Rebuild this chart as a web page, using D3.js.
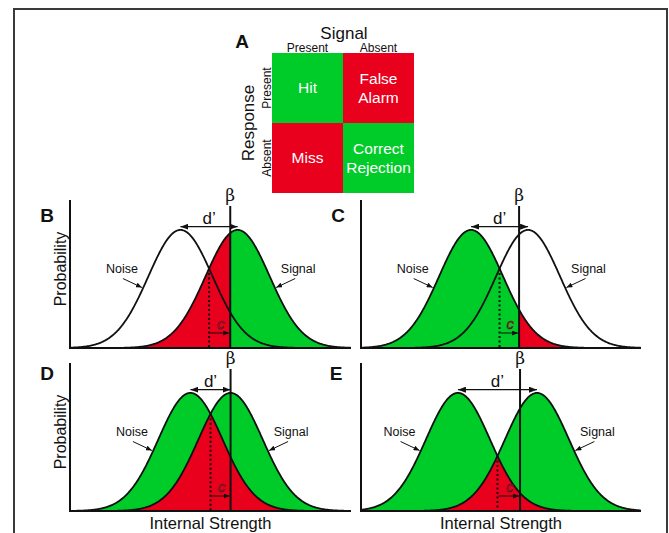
<!DOCTYPE html>
<html>
<head>
<meta charset="utf-8">
<script src="https://cdn.jsdelivr.net/npm/d3@7"></script>
<style>
body { margin: 0; background: #fff; }
text { font-family: "Liberation Sans", Arial, sans-serif; fill: #111; }
</style>
</head>
<body>
<script>
const w = 669;
const h = 533;
const green = "#00cc29";
const red = "#e8001c";

// panel A : confusion matrix
const sigCols = ["Present", "Absent"];
const respRows = ["Present", "Absent"];
const cellLabels = [["Hit"], ["False", "Alarm"], ["Miss"], ["Correct", "Rejection"]];
const cellColors = [green, red, red, green];

// panels B-E : noise / signal distributions (units of sigma)
const panelNames = ["B", "C", "D", "E"];
const noiseMeans = [0, 0, 0.31, -0.41];
const signalMeans = [1.78, 1.78, 1.56, 2.06];
const criteria = [1.55, 1.5, 1.56, 1.53];
const fillModes = ["signal", "noise", "overlap", "overlap"];
const xDomain = [-3.44, 5.31];
const yDomain = [0, 0.5];

const svg = d3.select("body").append("svg")
  .attr("width", w)
  .attr("height", h);

const defs = svg.append("defs");
defs.append("marker")
  .attr("id", "head")
  .attr("viewBox", "0 0 8 6")
  .attr("refX", 8).attr("refY", 3)
  .attr("markerWidth", 8).attr("markerHeight", 6)
  .attr("markerUnits", "userSpaceOnUse")
  .attr("orient", "auto-start-reverse")
  .append("path").attr("d", "M0,0L8,3L0,6z").attr("fill", "#111");
defs.append("marker")
  .attr("id", "smallhead")
  .attr("viewBox", "0 0 6 5")
  .attr("refX", 6).attr("refY", 2.5)
  .attr("markerWidth", 6).attr("markerHeight", 5)
  .attr("markerUnits", "userSpaceOnUse")
  .attr("orient", "auto-start-reverse")
  .append("path").attr("d", "M0,0L6,2.5L0,5z").attr("fill", "#111");

// outer frame
svg.append("rect")
  .attr("x", 14).attr("y", 9)
  .attr("width", 653).attr("height", 560)
  .attr("fill", "none").attr("stroke", "#3a3a3a").attr("stroke-width", 2);

// ---------- panel A ----------
const cx = d3.scaleBand().domain(sigCols).range([272, 414]);
const cy = d3.scaleBand().domain(respRows).range([53, 193]);
const cells = [];
respRows.forEach((r, i) => sigCols.forEach((c, j) => cells.push({r, c, k: i * 2 + j})));

const gA = svg.append("g");
gA.selectAll("rect.cell").data(cells).join("rect")
  .attr("class", "cell")
  .attr("x", d => cx(d.c)).attr("y", d => cy(d.r))
  .attr("width", cx.bandwidth()).attr("height", cy.bandwidth())
  .attr("fill", d => cellColors[d.k]);

gA.selectAll("text.cell").data(cells).join("text")
  .attr("class", "cell")
  .attr("x", d => cx(d.c) + cx.bandwidth() / 2)
  .attr("y", d => cy(d.r) + cy.bandwidth() / 2)
  .attr("text-anchor", "middle")
  .style("fill", "#fff")
  .style("font-size", "15.5px")
  .each(function(d) {
    const lines = cellLabels[d.k];
    const t = d3.select(this);
    lines.forEach((s, i) => {
      t.append("tspan")
        .attr("x", cx(d.c) + cx.bandwidth() / 2)
        .attr("dy", i === 0 ? (lines.length === 1 ? 5 : -4) : 19)
        .text(s);
    });
  });

gA.append("text").attr("x", 344).attr("y", 39)
  .attr("text-anchor", "middle").style("font-size", "17px").text("Signal");
gA.selectAll("text.col").data(sigCols).join("text")
  .attr("class", "col")
  .attr("x", d => cx(d) + cx.bandwidth() / 2).attr("y", 52)
  .attr("text-anchor", "middle").style("font-size", "12px").text(d => d);
gA.append("text")
  .attr("transform", "translate(254,123) rotate(-90)")
  .attr("text-anchor", "middle").style("font-size", "17px").text("Response");
gA.selectAll("text.row").data(respRows).join("text")
  .attr("class", "row")
  .attr("transform", d => `translate(271,${cy(d) + cy.bandwidth() / 2}) rotate(-90)`)
  .attr("text-anchor", "middle").style("font-size", "12px").text(d => d);
gA.append("text").attr("x", 242).attr("y", 48)
  .attr("text-anchor", "middle").style("font-size", "19px").style("font-weight", "bold").text("A");

// ---------- panels B-E ----------
const boxes = [
  {x0: 70, x1: 351, base: 348, top: 200, lx: 47, ly: 222},
  {x0: 361, x1: 641, base: 348, top: 200, lx: 338, ly: 222},
  {x0: 70, x1: 351, base: 511, top: 363, lx: 47, ly: 380},
  {x0: 361, x1: 641, base: 511, top: 363, lx: 336, ly: 380}
];

const pdf = (x, m) => Math.exp(-0.5 * (x - m) * (x - m)) / Math.sqrt(2 * Math.PI);
const xs = d3.range(xDomain[0], xDomain[1] + 0.001, 0.02);

panelNames.forEach((name, i) => {
  const b = boxes[i];
  const x = d3.scaleLinear().domain(xDomain).range([b.x0, b.x1]);
  const y = d3.scaleLinear().domain(yDomain).range([b.base, b.base - 296 * 0.5]);
  const nm = noiseMeans[i], sm = signalMeans[i], crit = criteria[i];
  const cross = (nm + sm) / 2;
  const g = svg.append("g");

  const area = f => d3.area().x(d => x(d)).y0(y(0)).y1(d => y(f(d)));
  const leftPts = xs.filter(d => d <= crit).concat([crit]);
  const rightPts = [crit].concat(xs.filter(d => d >= crit));

  if (fillModes[i] === "signal") {
    g.append("path").datum(leftPts).attr("d", area(d => pdf(d, sm))).attr("fill", red);
    g.append("path").datum(rightPts).attr("d", area(d => pdf(d, sm))).attr("fill", green);
  } else if (fillModes[i] === "noise") {
    g.append("path").datum(leftPts).attr("d", area(d => pdf(d, nm))).attr("fill", green);
    g.append("path").datum(rightPts).attr("d", area(d => pdf(d, nm))).attr("fill", red);
  } else {
    g.append("path").datum(xs).attr("d", area(d => Math.max(pdf(d, nm), pdf(d, sm)))).attr("fill", green);
    g.append("path").datum(xs).attr("d", area(d => Math.min(pdf(d, nm), pdf(d, sm)))).attr("fill", red);
  }

  // curves
  [nm, sm].forEach(m => {
    g.append("path").datum(xs)
      .attr("d", d3.line().x(d => x(d)).y(d => y(pdf(d, m))))
      .attr("fill", "none").attr("stroke", "#111").attr("stroke-width", 1.8);
  });

  // axes
  g.append("path")
    .attr("d", `M${b.x0},${b.top}V${b.base}H${b.x1}`)
    .attr("fill", "none").attr("stroke", "#111").attr("stroke-width", 2);

  // criterion line and beta
  g.append("line")
    .attr("x1", x(crit)).attr("x2", x(crit))
    .attr("y1", b.top + 6).attr("y2", b.base)
    .attr("stroke", "#111").attr("stroke-width", 2);
  g.append("text").attr("x", x(crit)).attr("y", b.top + 1)
    .attr("text-anchor", "middle").style("font-size", "17px")
    .style("font-family", "'DejaVu Serif', 'Liberation Serif', serif").text("β");

  // dotted line at crossing
  g.append("line")
    .attr("x1", x(cross)).attr("x2", x(cross))
    .attr("y1", y(pdf(cross, nm))).attr("y2", b.base)
    .attr("stroke", "#111").attr("stroke-width", 2).attr("stroke-dasharray", "2,2.5");

  // d' arrow
  const dy = y(0.41);
  g.append("line")
    .attr("x1", x(nm)).attr("x2", x(sm))
    .attr("y1", dy).attr("y2", dy)
    .attr("stroke", "#111").attr("stroke-width", 1.3)
    .attr("marker-start", "url(#head)").attr("marker-end", "url(#head)");
  g.append("text").attr("x", x(cross)).attr("y", dy - 3)
    .attr("text-anchor", "middle").style("font-size", "17px").text("d’");

  // c arrow
  const cyy = b.base - 15;
  g.append("line")
    .attr("x1", x(cross) + 1).attr("x2", x(crit) - 1)
    .attr("y1", cyy).attr("y2", cyy)
    .attr("stroke", "#111").attr("stroke-width", 1)
    .attr("marker-end", "url(#smallhead)");
  g.append("text").attr("x", (x(cross) + x(crit)) / 2 + 1).attr("y", cyy - 4)
    .attr("text-anchor", "middle").style("font-size", "15px").style("font-style", "italic")
    .style("fill", red).attr("stroke", "#222").attr("stroke-width", 0.5).text("c");

  // curve labels
  const nt = [x(nm - 1.2), y(pdf(nm - 1.2, nm)) - 3];
  const st = [x(sm + 1.2), y(pdf(sm + 1.2, sm)) - 3];
  g.append("line")
    .attr("x1", nt[0] - 19).attr("y1", nt[1] - 9).attr("x2", nt[0]).attr("y2", nt[1])
    .attr("stroke", "#111").attr("stroke-width", 1).attr("marker-end", "url(#smallhead)");
  g.append("line")
    .attr("x1", st[0] + 19).attr("y1", st[1] - 9).attr("x2", st[0]).attr("y2", st[1])
    .attr("stroke", "#111").attr("stroke-width", 1).attr("marker-end", "url(#smallhead)");
  g.append("text").attr("x", nt[0] - 20).attr("y", nt[1] - 15)
    .attr("text-anchor", "middle").style("font-size", "12.5px").text("Noise");
  g.append("text").attr("x", st[0] + 22).attr("y", st[1] - 15)
    .attr("text-anchor", "middle").style("font-size", "12.5px").text("Signal");

  // panel letter
  g.append("text").attr("x", b.lx).attr("y", b.ly)
    .attr("text-anchor", "middle").style("font-size", "19px").style("font-weight", "bold").text(name);

  // axis titles
  if (i % 2 === 0) {
    g.append("text")
      .attr("transform", `translate(66,${(b.top + b.base) / 2 - 5}) rotate(-90)`)
      .attr("text-anchor", "middle").style("font-size", "16px").text("Probability");
  }
  if (i >= 2) {
    g.append("text").attr("x", (b.x0 + b.x1) / 2).attr("y", 529)
      .attr("text-anchor", "middle").style("font-size", "16.5px").text("Internal Strength");
  }
});
</script>
</body>
</html>
